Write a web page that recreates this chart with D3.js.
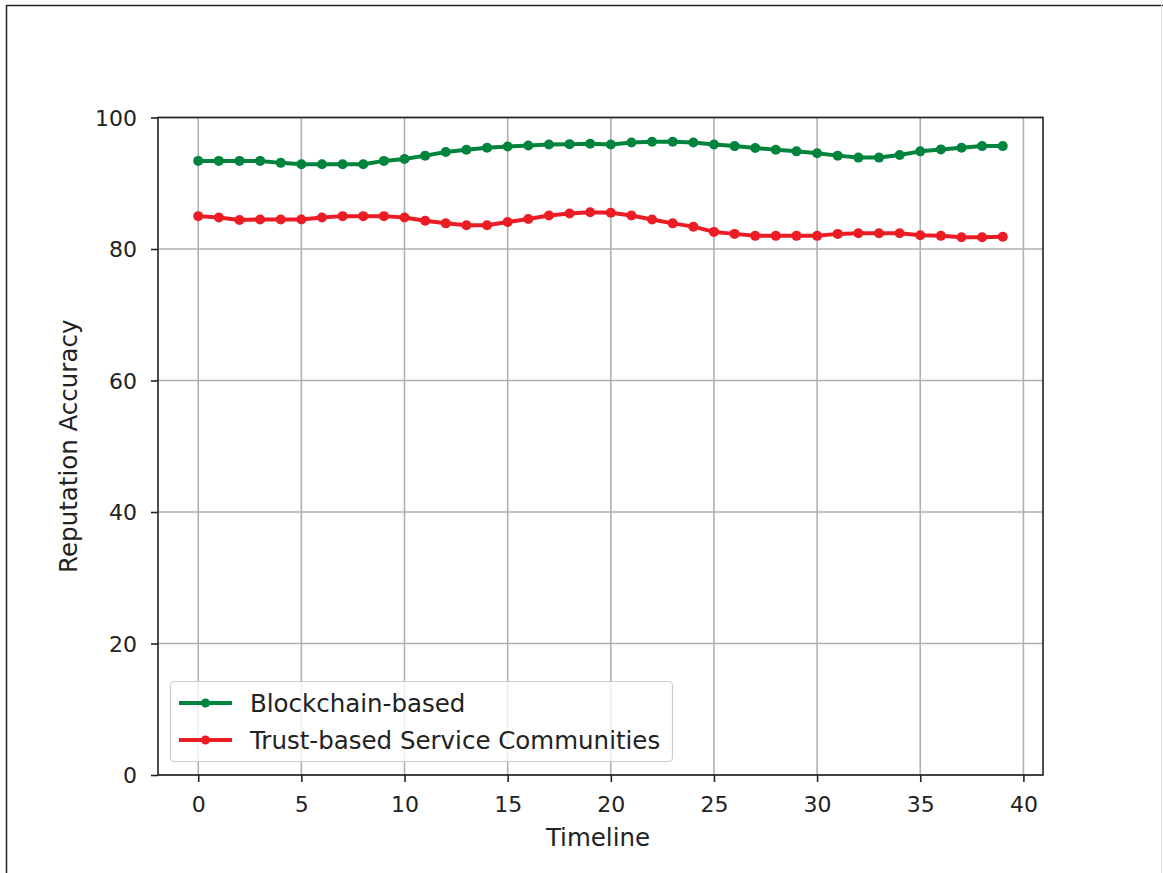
<!DOCTYPE html>
<html><head><meta charset="utf-8">
<script src="https://cdn.jsdelivr.net/npm/d3@7"></script>
<style>
html,body{margin:0;padding:0;background:#fff;}
svg text{font-family:"DejaVu Sans",sans-serif;fill:#222;}
</style></head>
<body>
<svg id="c" width="1163" height="873"></svg>
<script>
const timeline = d3.range(0, 40);
const blockchain = [93.4,93.4,93.4,93.4,93.1,92.9,92.9,92.9,92.9,93.4,
  93.7,94.2,94.75,95.1,95.4,95.6,95.75,95.9,95.95,96.0,
  95.9,96.2,96.3,96.3,96.2,95.9,95.65,95.35,95.1,94.85,
  94.55,94.2,93.9,93.9,94.3,94.85,95.15,95.4,95.65,95.65];
const trust = [85.0,84.8,84.4,84.5,84.5,84.5,84.8,85.0,85.0,85.0,
  84.8,84.3,83.9,83.6,83.6,84.1,84.55,85.1,85.4,85.6,
  85.5,85.1,84.5,83.9,83.4,82.6,82.3,82.0,82.0,82.0,
  82.0,82.3,82.4,82.4,82.4,82.1,82.0,81.8,81.8,81.85];
const xTicks = [0,5,10,15,20,25,30,35,40];
const yTicks = [0,20,40,60,80,100];
const seriesNames = ["Blockchain-based","Trust-based Service Communities"];
const seriesColors = ["#00843d","#ec1c24"];

const svg = d3.select("#c");
const L=158,R=1043,T=117.5,B=775;
const x = d3.scaleLinear().domain([-1.95,40.95]).range([L,R]);
const y = d3.scaleLinear().domain([0,100]).range([B,T]);

// outer frame
svg.append("line").attr("x1",6).attr("x2",1163).attr("y1",5.5).attr("y2",5.5).attr("stroke","#222").attr("stroke-width",1.5);
svg.append("line").attr("x1",6.5).attr("x2",6.5).attr("y1",5).attr("y2",873).attr("stroke","#222").attr("stroke-width",1.5);
svg.append("line").attr("x1",1161.5).attr("x2",1161.5).attr("y1",5).attr("y2",873).attr("stroke","#ddd").attr("stroke-width",1);

// grid
const g = svg.append("g");
g.selectAll(".gx").data(xTicks).join("line").attr("x1",d=>x(d)).attr("x2",d=>x(d)).attr("y1",T).attr("y2",B)
  .attr("stroke","#b0b0b0").attr("stroke-width",1.6);
g.selectAll(".gy").data(yTicks).join("line").attr("y1",d=>y(d)).attr("y2",d=>y(d)).attr("x1",L).attr("x2",R)
  .attr("stroke","#b0b0b0").attr("stroke-width",1.6);

// axes
const xAxis = svg.append("g").attr("transform",`translate(0,${B})`)
  .call(d3.axisBottom(x).tickValues(xTicks).tickSize(7).tickSizeOuter(0));
const yAxis = svg.append("g").attr("transform",`translate(${L},0)`)
  .call(d3.axisLeft(y).tickValues(yTicks).tickSize(7).tickSizeOuter(0));
[xAxis,yAxis].forEach(a=>{
  a.select(".domain").remove();
  a.selectAll(".tick line").attr("stroke","#222").attr("stroke-width",1.6);
  a.selectAll(".tick text").attr("font-size",22).attr("font-family","DejaVu Sans").attr("fill","#222");
});
xAxis.selectAll(".tick text").attr("y",37).attr("dy",0);
yAxis.selectAll(".tick text").attr("x",-21).attr("dy","0.36em");

// frame of plot
svg.append("rect").attr("x",L).attr("y",T).attr("width",R-L).attr("height",B-T)
  .attr("fill","none").attr("stroke","#222").attr("stroke-width",1.6);

// lines
const all=[blockchain,trust];
const line = d3.line().x((d,i)=>x(timeline[i])).y(d=>y(d)).curve(d3.curveLinear);
all.forEach((s,k)=>{
  svg.append("path").datum(s).attr("d",line).attr("fill","none")
    .attr("stroke",seriesColors[k]).attr("stroke-width",4).attr("stroke-linejoin","round");
  svg.append("g").selectAll("circle").data(s).join("circle")
    .attr("cx",(d,i)=>x(timeline[i])).attr("cy",d=>y(d)).attr("r",5).attr("fill",seriesColors[k]);
});

// labels
svg.append("text").attr("x",598).attr("y",846).attr("text-anchor","middle").attr("font-size",24.5).text("Timeline");
svg.append("text").attr("transform",`translate(77,${(T+B)/2}) rotate(-90)`).attr("text-anchor","middle").attr("font-size",24.5).text("Reputation Accuracy");

// legend
const lg = svg.append("g");
lg.append("rect").attr("x",170.5).attr("y",681.5).attr("width",502).attr("height",80).attr("rx",4)
  .attr("fill","rgba(255,255,255,0.8)").attr("stroke","#ccc").attr("stroke-width",1.2);
seriesNames.forEach((n,k)=>{
  const yy = 703 + k*37;
  lg.append("line").attr("x1",179).attr("x2",232).attr("y1",yy).attr("y2",yy).attr("stroke",seriesColors[k]).attr("stroke-width",4);
  lg.append("circle").attr("cx",205.5).attr("cy",yy).attr("r",4.5).attr("fill",seriesColors[k]);
  lg.append("text").attr("x",250).attr("y",yy).attr("dy","0.36em").attr("font-size",24.5).text(n);
});
</script>
</body></html>
